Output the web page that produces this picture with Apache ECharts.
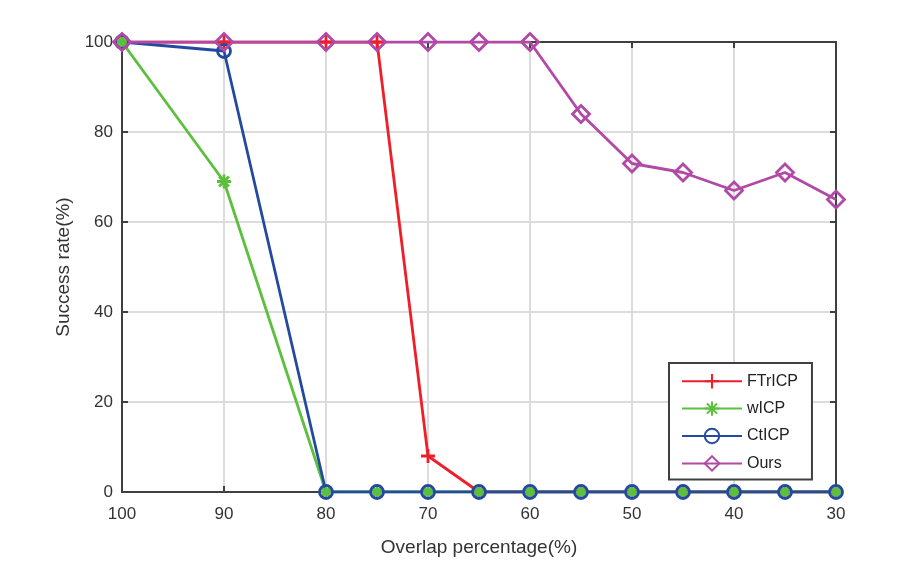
<!DOCTYPE html>
<html>
<head>
<meta charset="utf-8">
<script src="https://cdn.jsdelivr.net/npm/echarts@6/dist/echarts.min.js"></script>
<style>
  html, body { margin: 0; padding: 0; background: #fff; }
  #chart { width: 923px; height: 567px; }
</style>
</head>
<body>
<div id="chart"></div>
<script>
// overlap percentages (x)
var overlap = [100, 90, 80, 75, 70, 65, 60, 55, 50, 45, 40, 35, 30];
var ftricp = [100, 100, 100, 100, 8, 0, 0, 0, 0, 0, 0, 0, 0];
var wicp   = [100, 69, 0, 0, 0, 0, 0, 0, 0, 0, 0, 0, 0];
var cticp  = [100, 98, 0, 0, 0, 0, 0, 0, 0, 0, 0, 0, 0];
var ours   = [100, 100, 100, 100, 100, 100, 100, 84, 73, 71, 67, 71, 65];

function pairs(vals) {
  return overlap.map(function (x, i) { return [x, vals[i]]; });
}

var axisColor = '#404040';
var gridColor = '#dcdcdc';
var font = 'Liberation Sans, Arial, sans-serif';

// hollow marker outlines (stroke only, see-through like the matlab markers)
var plusPath = 'path://M0,-10 L0,10 M-10,0 L10,0';
var starPath = 'path://M0,-10 L0,10 M-10,0 L10,0 M-7,-7 L7,7 M-7,7 L7,-7';
var circlePath = 'path://M10,0 A10,10 0 1,1 -10,0 A10,10 0 1,1 10,0 Z';
var diamondPath = 'path://M0,-10 L10,0 L0,10 L-10,0 Z';

var myChart = echarts.init(document.getElementById('chart'));

function lineSeries(name, vals, color, symbol, size) {
  return {
    name: name,
    type: 'line',
    data: pairs(vals),
    symbol: symbol,
    symbolSize: size,
    showAllSymbol: true,
    lineStyle: { color: color, width: 2.8 },
    itemStyle: { color: 'transparent', borderColor: color, borderWidth: 2.8 },
    emphasis: { disabled: true },
    animation: false
  };
}

// box frame: onZero off, or the top axis jumps down to y = 0
var frameLine = { show: true, onZero: false, lineStyle: { color: axisColor, width: 2 } };
var innerTick = { show: true, inside: true, length: 6, lineStyle: { color: axisColor, width: 2 } };

var option = {
  animation: false,
  grid: { left: 122, right: 87, top: 42, bottom: 75 },
  legend: {
    orient: 'vertical',
    left: 669,
    top: 363,
    width: 150,
    padding: [10, 14, 8, 12],
    itemWidth: 60,
    itemHeight: 18,
    itemGap: 11,
    borderColor: axisColor,
    borderWidth: 2,
    backgroundColor: '#fff',
    textStyle: { fontFamily: font, fontSize: 16, color: '#222' },
    data: ['FTrICP', 'wICP', 'CtICP', 'Ours']
  },
  xAxis: [{
    type: 'value',
    inverse: true,
    min: 30,
    max: 100,
    interval: 10,
    name: 'Overlap percentage(%)',
    nameLocation: 'middle',
    nameGap: 46,
    nameTextStyle: { fontFamily: font, fontSize: 19, color: '#333' },
    axisLine: frameLine,
    axisTick: innerTick,
    axisLabel: { fontFamily: font, fontSize: 17, color: '#333', margin: 14 },
    splitLine: { show: true, lineStyle: { color: gridColor, width: 2 } }
  }, {
    type: 'value',
    inverse: true,
    position: 'top',
    min: 30,
    max: 100,
    interval: 10,
    axisLine: frameLine,
    axisTick: innerTick,
    axisLabel: { show: false },
    splitLine: { show: false }
  }],
  yAxis: [{
    type: 'value',
    min: 0,
    max: 100,
    interval: 20,
    name: 'Success rate(%)',
    nameLocation: 'middle',
    nameGap: 48,
    nameRotate: 90,
    nameTextStyle: { fontFamily: font, fontSize: 19, color: '#333' },
    axisLine: frameLine,
    axisTick: innerTick,
    axisLabel: { fontFamily: font, fontSize: 17, color: '#333', margin: 9 },
    splitLine: { show: true, lineStyle: { color: gridColor, width: 2 } }
  }, {
    type: 'value',
    position: 'right',
    min: 0,
    max: 100,
    interval: 20,
    axisLine: frameLine,
    axisTick: innerTick,
    axisLabel: { show: false },
    splitLine: { show: false }
  }],
  series: [
    lineSeries('FTrICP', ftricp, '#f01e28', plusPath, 14),
    lineSeries('wICP', wicp, '#5cbf3e', starPath, 14),
    lineSeries('CtICP', cticp, '#2349a0', circlePath, 13),
    lineSeries('Ours', ours, '#b04aa6', diamondPath, 17)
  ]
};

myChart.setOption(option);
window.addEventListener('resize', function () {
  myChart.resize();
});
</script>
</body>
</html>
